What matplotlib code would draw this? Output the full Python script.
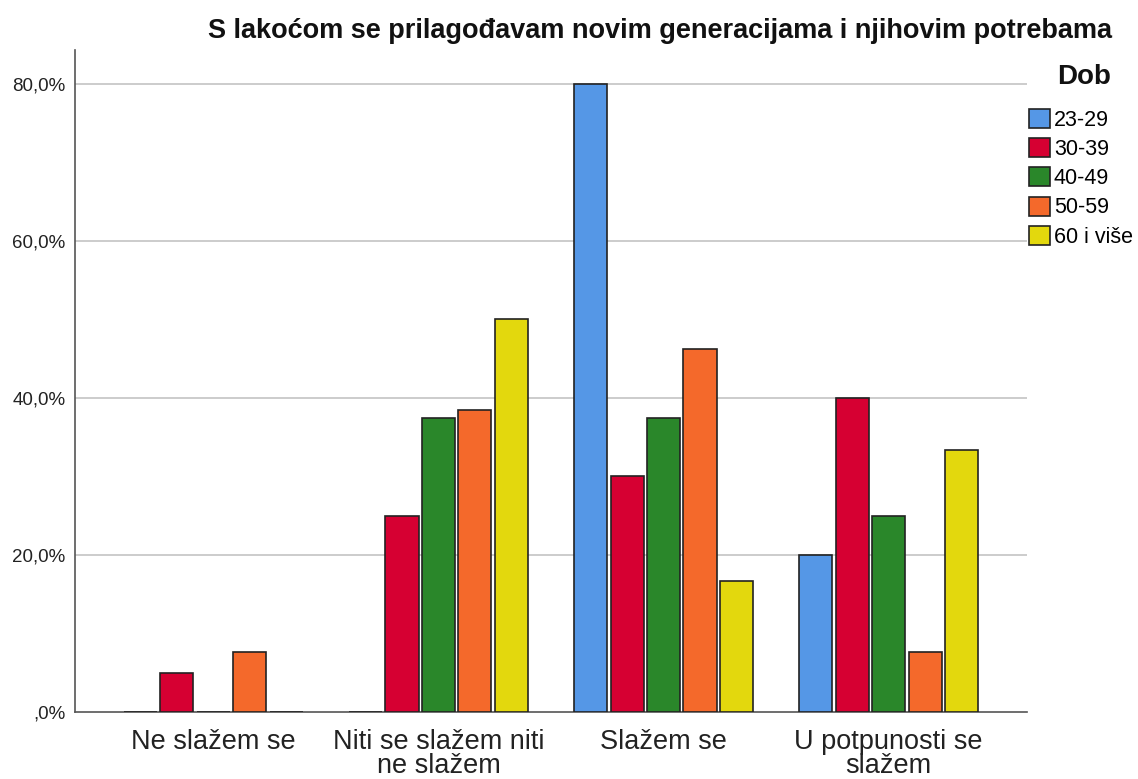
import matplotlib
matplotlib.use("Agg")
import matplotlib.pyplot as plt
import numpy as np
from matplotlib.patches import Patch

categories = ["Ne slažem se", "Niti se slažem niti\nne slažem", "Slažem se", "U potpunosti se\nslažem"]
groups = ["23-29", "30-39", "40-49", "50-59", "60 i više"]
values = {
    "23-29":     [0.0, 0.0, 80.0, 20.0],
    "30-39":     [5.0, 25.0, 30.0, 40.0],
    "40-49":     [0.0, 37.5, 37.5, 25.0],
    "50-59":     [7.7, 38.5, 46.2, 7.7],
    "60 i više": [0.0, 50.0, 16.7, 33.3],
}
colors = ["#5597e6", "#d60032", "#2a872a", "#f4692b", "#e3d80d"]
yticks = [0, 20, 40, 60, 80]
ytick_labels = [",0%", "20,0%", "40,0%", "60,0%", "80,0%"]
title = "S lakoćom se prilagođavam novim generacijama i njihovim potrebama"
legend_title = "Dob"

plt.rcParams['font.family'] = ['Liberation Sans', 'DejaVu Sans']
fig = plt.figure(figsize=(11.38, 7.79), dpi=100)
ax = fig.add_axes([75/1138, 67/779, (1027-75)/1138, (712-50)/779])

x = np.arange(len(categories))
step = 0.162
width = 0.147
for i, g in enumerate(groups):
    ax.bar(x + (i - 2) * step, values[g], width=width, color=colors[i],
           edgecolor="#222222", linewidth=1.2, zorder=3)

ax.set_xlim(-0.615, 3.615)
ax.set_ylim(0, 84.3)
ax.set_yticks(yticks)
ax.set_yticklabels(ytick_labels, fontsize=13.5, color="#222222")
ax.set_xticks(x)
ax.set_xticklabels(categories, fontsize=19.5, color="#222222", linespacing=0.9)
ax.tick_params(axis='x', length=0, pad=12)
ax.tick_params(axis='y', length=0, pad=7)
for yv in yticks[1:]:
    ax.axhline(yv, color="#c8c8c8", linewidth=1.3, zorder=1)
for s in ["top", "right"]:
    ax.spines[s].set_visible(False)
ax.spines["left"].set_color("#555555")
ax.spines["bottom"].set_color("#555555")
ax.spines["left"].set_linewidth(1.2)
ax.spines["bottom"].set_linewidth(1.2)

fig.text(660/1138, 1 - 31/779, title, fontsize=19.5, fontweight="bold",
         ha="center", va="center", color="#111111")
fig.text(1084/1138, 1 - 77/779, legend_title, fontsize=20, fontweight="bold",
         ha="center", va="center", color="#111111")

handles = [Patch(facecolor=c, edgecolor="#222222", linewidth=1.2) for c in colors]
leg = fig.legend(handles, groups, loc="upper left", bbox_to_anchor=(1029/1138, 1 - 109/779),
                 frameon=False, fontsize=15.5, borderaxespad=0,
                 handlelength=0.98, handleheight=0.98, handletextpad=0.18,
                 labelspacing=0.34, borderpad=0.0)

fig.savefig("out.png", dpi=100)
